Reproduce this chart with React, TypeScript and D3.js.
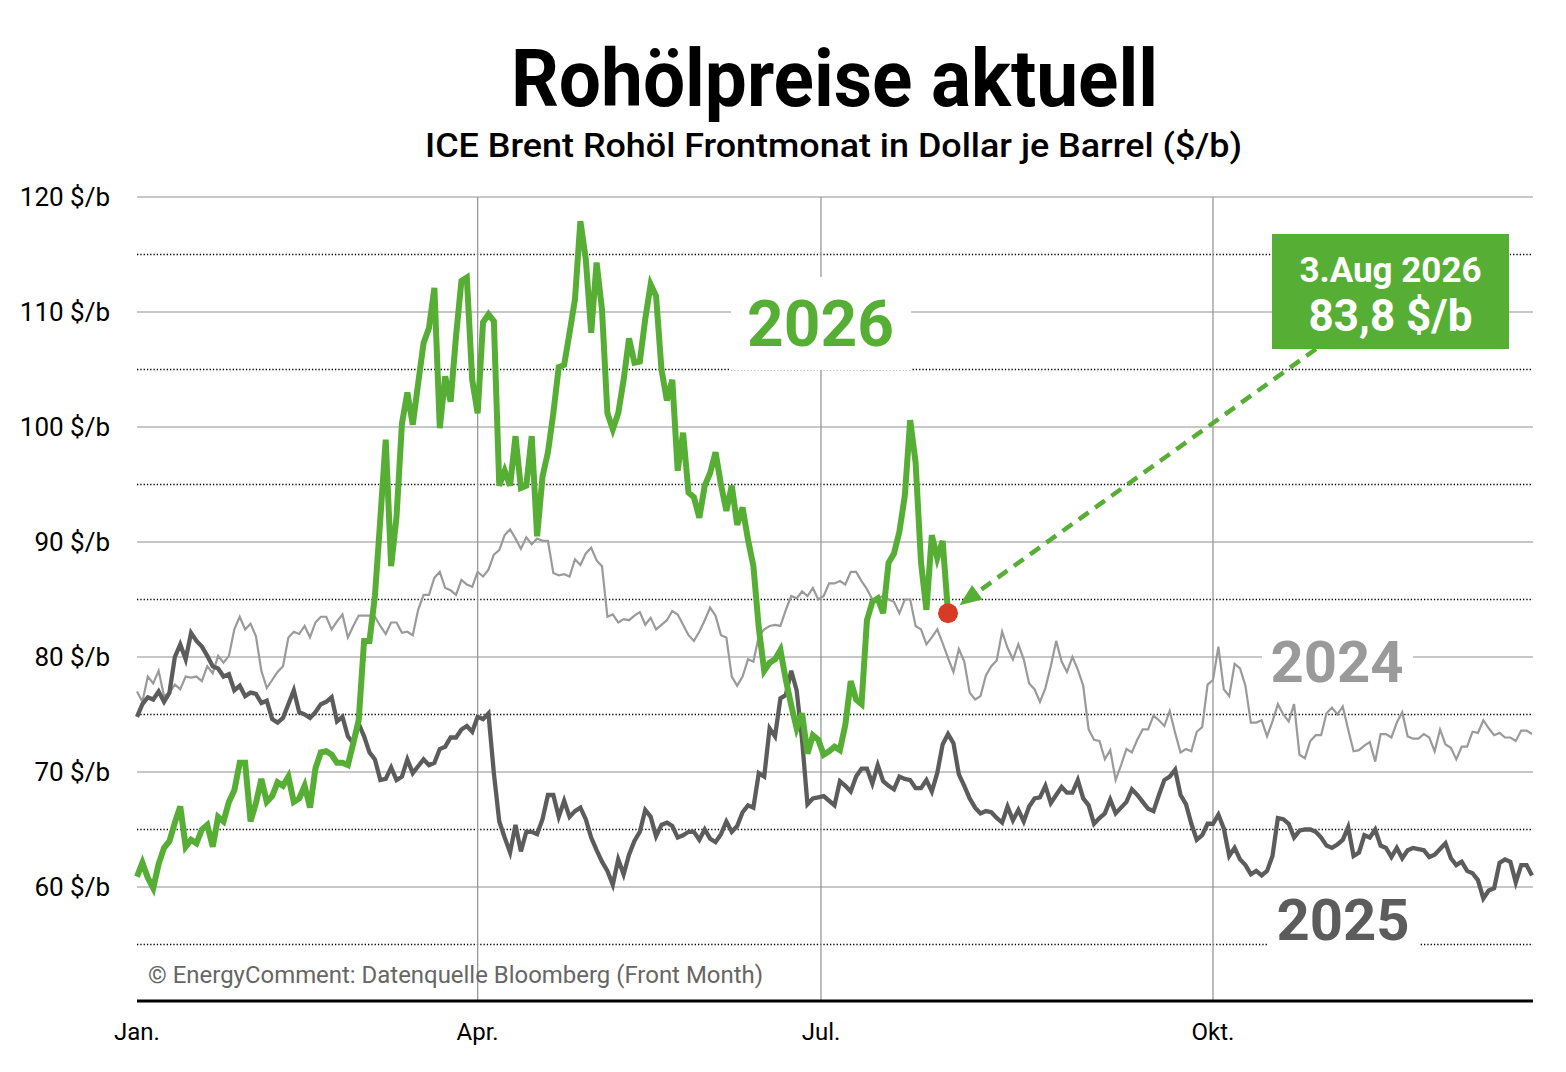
import * as d3 from "d3"

// ICE Brent front month, one value per trading day (index 0 = first trading day of the year)
const brent2024 = [
  77.0, 76.1, 78.3, 77.7, 78.8, 76.6, 76.9, 77.6, 77.2, 78.3,
  78.2, 78.3, 77.9, 79.2, 78.6, 80.1, 79.5, 80.1, 82.4, 83.5,
  82.4, 82.9, 81.8, 78.8, 77.3, 78.0, 78.7, 79.2, 81.7, 82.2,
  82.0, 82.7, 81.7, 83.0, 83.5, 83.5, 82.4, 83.1, 83.7, 81.7,
  82.7, 83.6, 83.6, 83.6, 83.5, 82.7, 82.0, 83.0, 83.0, 82.1,
  82.2, 81.9, 84.1, 85.4, 85.4, 86.9, 87.4, 86.0, 85.8, 85.4,
  86.7, 86.3, 86.1, 87.4, 87.0, 87.6,
  88.9, 89.3, 90.6, 91.1, 90.3, 89.4, 90.4, 89.8, 90.3, 90.1,
  90.1, 87.3, 87.1, 87.2, 87.0, 88.5, 88.0, 89.0, 89.5, 88.4,
  87.9, 83.5, 83.7, 83.0, 83.3, 83.2, 83.6, 83.9, 82.8, 83.4,
  82.4, 82.8, 83.2, 84.0, 83.7, 82.8, 81.9, 81.4, 82.2, 83.2,
  84.3, 83.6, 81.9, 81.7, 78.3, 77.5, 78.3, 79.8, 79.6, 81.8,
  82.4, 82.7, 82.8, 82.7, 84.1, 85.3, 85.1, 85.7, 85.3, 86.0,
  85.0, 85.3, 86.4,
  86.4, 86.6, 86.3, 87.4, 87.4, 86.6, 85.9, 85.0, 85.1, 85.3,
  85.0, 84.8, 83.8, 85.0, 85.0, 82.7, 82.4, 81.1, 81.7, 82.4,
  81.2, 79.9, 78.7, 80.7, 79.6, 76.9, 76.3, 76.6, 78.4, 79.2,
  79.7, 82.2, 80.8, 79.8, 81.1, 79.8, 77.7, 77.2, 76.1, 77.3,
  79.2, 81.4, 79.6, 78.7, 80.0, 78.9, 77.5, 73.7, 72.8, 72.7,
  71.1, 71.9, 69.3, 70.6, 72.0, 71.7, 72.8, 73.7, 73.7, 74.9,
  74.5, 74.0, 75.3,
  73.4, 71.7, 72.0, 71.8, 73.5, 73.9, 77.6, 78.0, 80.9, 77.2,
  76.6, 79.4, 79.0, 77.5, 74.3, 74.3, 74.5, 73.1, 74.4, 75.9,
  75.0, 74.4, 75.9, 71.5, 71.2, 72.7, 73.2, 73.2, 75.1, 75.6,
  75.0, 75.7, 73.7, 71.8, 71.9, 72.3, 72.6, 70.9, 73.3, 73.3,
  73.0, 74.3, 75.2, 73.1, 72.9, 72.9, 73.3, 73.0, 71.8, 73.7,
  72.4, 72.1, 71.1, 72.2, 72.2, 73.5, 73.4, 74.5, 73.8, 73.2,
  73.4, 73.0, 73.0, 72.7, 73.6, 73.6, 73.3,
]

const brent2025 = [
  74.8, 75.9, 76.5, 76.3, 77.0, 76.1, 76.9, 80.0, 81.1, 79.8,
  82.1, 81.4, 80.9, 80.1, 79.2, 79.0, 78.3, 78.5, 77.1, 77.5,
  76.6, 76.9, 76.8, 76.0, 76.2, 74.6, 74.3, 74.7, 75.9, 77.1,
  75.2, 75.0, 74.7, 75.2, 75.9, 76.1, 76.5, 74.4, 74.8, 73.1,
  72.5, 74.2, 73.1, 71.7, 71.1, 69.3, 69.4, 70.4, 69.3, 69.6,
  71.1, 69.9, 70.5, 71.1, 70.6, 70.8, 72.0, 72.2, 73.0, 73.0,
  73.7, 74.0, 73.5, 74.8, 74.6, 75.1,
  69.9, 65.7, 64.3, 63.0, 65.4, 63.1, 64.8, 64.8, 64.6, 65.9,
  68.0, 68.0, 66.1, 67.5, 66.1, 66.6, 66.9, 65.9, 64.3, 63.2,
  62.2, 61.4, 60.2, 62.4, 61.1, 62.8, 64.0, 64.8, 66.7, 66.1,
  64.4, 65.4, 65.6, 65.3, 64.3, 64.5, 64.8, 64.8, 64.1, 65.0,
  64.2, 63.9, 64.6, 65.7, 64.8, 65.3, 66.5, 67.1, 66.9, 69.9,
  69.6, 73.8, 73.1, 76.4, 76.7, 78.8, 77.1, 72.8, 67.2, 67.7,
  67.8, 67.9, 67.5,
  67.1, 69.2, 68.8, 68.3, 69.6, 70.3, 70.3, 69.0, 70.6, 69.2,
  68.8, 68.5, 69.6, 69.4, 69.3, 68.6, 68.6, 69.3, 68.3, 69.9,
  72.4, 73.3, 72.5, 69.8, 68.8, 67.7, 66.9, 66.4, 66.6, 66.5,
  66.0, 65.6, 67.0, 65.8, 66.7, 65.7, 67.0, 67.7, 67.8, 68.8,
  67.3, 68.0, 68.7, 68.2, 68.2, 69.3, 67.7, 67.1, 65.5, 66.0,
  66.4, 67.6, 66.4, 66.9, 67.4, 68.5, 68.0, 67.4, 66.8, 66.6,
  68.0, 69.3, 69.6,
  70.2, 68.0, 67.2, 65.5, 64.1, 64.5, 65.5, 65.5, 66.3, 65.1,
  62.7, 63.4, 62.4, 61.9, 61.1, 61.4, 61.0, 61.4, 62.7, 66.0,
  65.9, 65.5, 64.3, 64.9, 65.0, 65.0, 64.8, 64.3, 63.6, 63.4,
  63.7, 64.1, 65.2, 62.7, 63.0, 64.5, 64.3, 65.0, 63.6, 63.4,
  62.6, 63.4, 62.5, 63.2, 63.4, 63.3, 63.2, 62.6, 62.8, 63.3,
  63.8, 62.5, 61.9, 62.2, 61.4, 61.2, 60.6, 59.0, 59.7, 59.9,
  62.1, 62.4, 62.2, 60.4, 61.9, 61.9, 61.0,
]

const brent2026 = [
  60.9, 62.1, 60.8, 59.9, 62.0, 63.4, 64.0, 65.6, 67.0, 63.5,
  64.1, 63.8, 65.0, 65.4, 63.5, 66.1, 65.7, 67.4, 68.4, 70.8,
  70.8, 65.7, 67.3, 69.4, 67.4, 67.9, 69.1, 68.8, 69.6, 67.4,
  67.7, 68.8, 66.9, 70.3, 71.7, 71.8, 71.5, 70.8, 70.8, 70.6,
  72.5, 74.5, 81.4, 81.4, 85.3, 92.0, 98.9, 87.9, 92.2, 100.3,
  103.0, 100.2, 103.8, 107.3, 108.6, 112.1, 99.9, 104.4, 102.2, 107.9,
  112.7, 113.0, 104.1, 101.2, 109.1, 109.8,
  109.2, 94.9, 96.2, 94.9, 99.2, 94.7, 94.9, 99.2, 90.5, 95.7,
  97.8, 101.2, 105.2, 105.4, 108.2, 111.1, 117.9, 114.6, 108.2, 114.3,
  110.2, 101.2, 99.8, 101.2, 104.1, 107.7, 105.6, 105.7, 109.4, 112.4,
  111.4, 105.0, 102.3, 104.1, 96.2, 99.5, 94.3, 93.9, 92.1, 94.9,
  96.0, 97.8, 95.0, 92.7, 94.9, 91.5, 93.0, 90.2, 87.9, 82.5,
  78.8, 79.5, 79.8, 80.6, 78.0, 75.8, 73.8, 75.1, 71.6, 73.2,
  72.8, 71.5, 71.8, 72.2, 71.9, 74.1, 77.9, 76.3, 75.9, 83.2,
  84.8, 85.1, 83.8, 88.2, 89.0, 90.9, 94.0, 100.6, 96.9, 88.2,
  84.1, 90.6, 88.6, 90.1, 83.8,
]

const monthLabels = ["Jan.", "Apr.", "Jul.", "Okt."]
const monthTradingDay = [0, 63, 126.5, 199]
const priceTicks = [60, 70, 80, 90, 100, 110, 120]
const halfTicks = [55, 65, 75, 85, 95, 105, 115]
const lastDateLabel = "3.Aug 2026"

const GREEN = "#56ae35"
const DARK = "#5c5c5c"
const LIGHT = "#9a9a9a"
const FONT = "Roboto, 'Noto Sans', sans-serif"

const W = 1566
const H = 1072
const plotLeft = 137
const plotRight = 1532
const plotTop = 197
const axisY = 1001

export default function App() {
  const x = d3.scaleLinear().domain([0, 258]).range([plotLeft, plotRight])
  const y = d3.scaleLinear().domain([60, 120]).range([887, 197])

  const line = d3
    .line<number>()
    .x((_, i) => x(i))
    .y((d) => y(d))

  const lastIdx = brent2026.length - 1
  const lastVal = brent2026[lastIdx]
  const dot = { x: x(lastIdx), y: y(lastVal) }

  // callout box and dashed arrow to the last point
  const box = { x: 1272, y: 234, w: 237, h: 115 }
  const start = { x: 1316, y: box.y + box.h }
  const dx = start.x - dot.x
  const dy = start.y - dot.y
  const len = Math.hypot(dx, dy)
  const ux = dx / len
  const uy = dy / len
  const tip = { x: dot.x + ux * 14, y: dot.y + uy * 14 }
  const base = { x: tip.x + ux * 22, y: tip.y + uy * 22 }
  const head = [
    [tip.x, tip.y],
    [base.x - uy * 9, base.y + ux * 9],
    [base.x + uy * 9, base.y - ux * 9],
  ]
    .map((p) => p.join(","))
    .join(" ")

  return (
    <svg
      width={W}
      height={H}
      style={{ position: "absolute", left: 0, top: 0, background: "#fff" }}
      fontFamily={FONT}
    >
      <text
        x={834.5}
        y={106}
        textAnchor="middle"
        fontSize={80}
        fontWeight={700}
        textLength={647}
        lengthAdjust="spacingAndGlyphs"
        fill="#000"
      >
        Rohölpreise aktuell
      </text>
      <text
        x={833.5}
        y={157}
        textAnchor="middle"
        fontSize={34}
        fontWeight={500}
        textLength={817}
        lengthAdjust="spacingAndGlyphs"
        fill="#000"
      >
        ICE Brent Rohöl Frontmonat in Dollar je Barrel ($/b)
      </text>

      {/* horizontal grid */}
      {priceTicks.map((v) => (
        <line key={"g" + v} x1={plotLeft} x2={plotRight + 1} y1={y(v)} y2={y(v)} stroke="#b4b4b4" strokeWidth={1.3} />
      ))}
      {halfTicks.map((v) => (
        <line
          key={"h" + v}
          x1={plotLeft}
          x2={plotRight + 1}
          y1={y(v)}
          y2={y(v)}
          stroke="#000"
          strokeWidth={1.3}
          strokeDasharray="1.3 2"
        />
      ))}
      {monthTradingDay.slice(1).map((d) => (
        <line key={"v" + d} x1={x(d)} x2={x(d)} y1={plotTop} y2={axisY} stroke="#999" strokeWidth={1.3} />
      ))}

      {/* white boxes behind the year labels */}
      <rect x={731} y={277} width={180} height={93} fill="#fff" />
      <rect x={1262} y={630} width={151} height={60} fill="#fff" />
      <rect x={1268} y={890} width={151} height={60} fill="#fff" />

      {priceTicks.map((v) => (
        <text key={"t" + v} x={110} y={y(v)} dy="0.35em" textAnchor="end" fontSize={26} fill="#000">
          {`${v} $/b`}
        </text>
      ))}

      <text x={148} y={983} fontSize={23} fill="#666" textLength={615} lengthAdjust="spacingAndGlyphs">
        © EnergyComment: Datenquelle Bloomberg (Front Month)
      </text>

      <path d={line(brent2024) || ""} fill="none" stroke={LIGHT} strokeWidth={2.2} />
      <path d={line(brent2025) || ""} fill="none" stroke={DARK} strokeWidth={4.3} />
      <path d={line(brent2026) || ""} fill="none" stroke={GREEN} strokeWidth={6} />

      <text x={820.5} y={346} textAnchor="middle" fontSize={64} fontWeight={700} fill={GREEN}>
        2026
      </text>
      <text x={1337} y={682} textAnchor="middle" fontSize={58} fontWeight={700} fill={LIGHT}>
        2024
      </text>
      <text x={1343} y={940} textAnchor="middle" fontSize={58} fontWeight={700} fill={DARK}>
        2025
      </text>

      <line x1={plotLeft} x2={plotRight + 1} y1={axisY} y2={axisY} stroke="#000" strokeWidth={3} />
      {monthLabels.map((m, i) => (
        <text key={m} x={x(monthTradingDay[i])} y={1040} textAnchor="middle" fontSize={24} fill="#000">
          {m}
        </text>
      ))}

      {/* callout */}
      <line
        x1={start.x}
        y1={start.y}
        x2={base.x}
        y2={base.y}
        stroke={GREEN}
        strokeWidth={4.5}
        strokeDasharray="12 8"
      />
      <polygon points={head} fill={GREEN} />
      <circle cx={dot.x} cy={dot.y} r={10} fill="#d93a26" />

      <rect x={box.x} y={box.y} width={box.w} height={box.h} fill={GREEN} />
      <text x={box.x + box.w / 2} y={282} textAnchor="middle" fontSize={35} fontWeight={700} fill="#fff">
        {lastDateLabel}
      </text>
      <text x={box.x + box.w / 2} y={331} textAnchor="middle" fontSize={44} fontWeight={700} fill="#fff">
        {`${lastVal.toFixed(1).replace(".", ",")} $/b`}
      </text>
    </svg>
  )
}
